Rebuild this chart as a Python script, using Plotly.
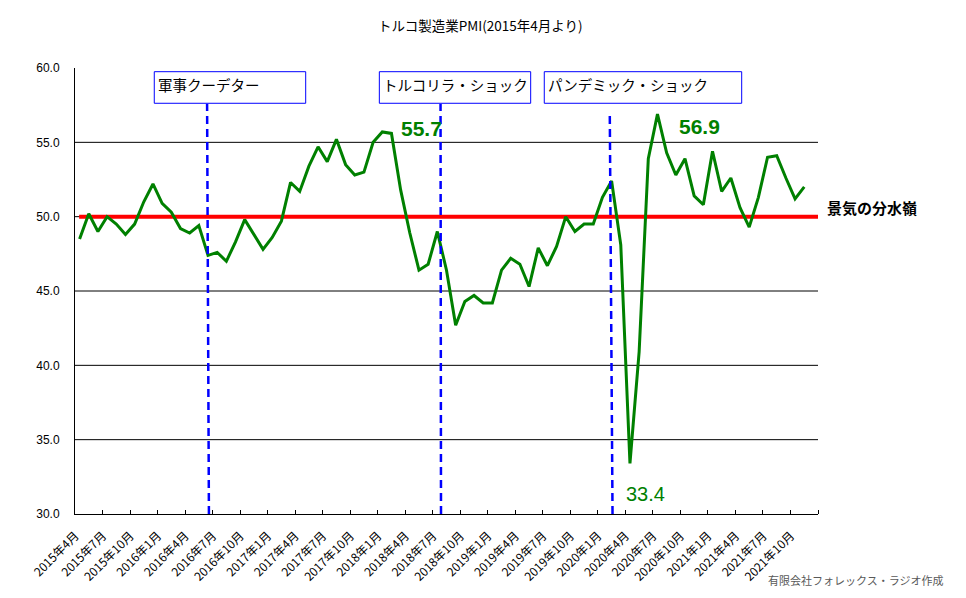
import plotly.graph_objects as go

# ---- data ----
years = [2015] * 9 + [y for y in range(2016, 2022) for _ in range(12)]
months = list(range(4, 13)) + list(range(1, 13)) * 6
categories = [f"{y}年{m}月" for y, m in zip(years, months)]  # Apr 2015 .. Dec 2021 (81)

pmi = [48.5, 50.2, 49.0, 50.0, 49.5, 48.8, 49.5, 51.0, 52.2,
       50.9, 50.3, 49.2, 48.9, 49.4, 47.4, 47.6, 47.0, 48.3, 49.8, 48.8, 47.8,
       48.6, 49.7, 52.3, 51.7, 53.4, 54.7, 53.7, 55.2, 53.5, 52.8, 53.0, 55.0,
       55.7, 55.6, 51.8, 48.9, 46.4, 46.8, 49.0, 46.4, 42.7, 44.3, 44.7, 44.2,
       44.2, 46.4, 47.2, 46.8, 45.3, 47.9, 46.7, 48.0, 50.0, 49.0, 49.5, 49.5,
       51.3, 52.4, 48.1, 33.4, 40.9, 53.9, 56.9, 54.3, 52.8, 53.9, 51.4, 50.8,
       54.4, 51.7, 52.6, 50.6, 49.3, 51.3, 54.0, 54.1, 52.6, 51.2, 52.0]

tick_idx = list(range(0, 81, 3))
tick_labels = [categories[i] for i in tick_idx]
y_ticks = [30, 35, 40, 45, 50, 55, 60]
grid_vals = [35, 40, 45, 50, 55]
threshold = 50

events = ["軍事クーデター", "トルコリラ・ショック", "パンデミック・ショック"]
event_x = [(14.1, 13.9), (39.4, 39.35), (58.1, 57.8)]
event_top = [57.6, 57.6, 57.0]
event_box = [(0.1067, 0.3105), (0.4096, 0.6133), (0.6316, 0.8973)]

callouts = [("55.7", 37.25, 55.9, True), ("56.9", 67.6, 56.05, True), ("33.4", 61.65, 31.35, False)]

x = list(range(len(pmi)))

fig = go.Figure()
fig.add_trace(go.Scatter(x=x, y=pmi, mode="lines",
                         line=dict(color="#008000", width=3), showlegend=False,
                         hoverinfo="skip"))

shapes = []
for v in grid_vals:
    shapes.append(dict(type="line", xref="paper", yref="y", x0=0, x1=1, y0=v, y1=v,
                       line=dict(color="black", width=1), layer="below"))
shapes.append(dict(type="line", xref="x", yref="y", x0=-0.05, x1=80.7, y0=threshold, y1=threshold,
                   line=dict(color="#FF0000", width=4), layer="below"))
for (xb, xt), top in zip(event_x, event_top):
    shapes.append(dict(type="line", xref="x", yref="y", x0=xb, x1=xt, y0=30, y1=top,
                       line=dict(color="#0000FF", width=2.5, dash="8px,5px"), layer="above"))
for (x0, x1) in event_box:
    shapes.append(dict(type="rect", xref="paper", yref="paper", x0=x0, x1=x1,
                       y0=0.9209, y1=0.9917, line=dict(color="#0000FF", width=1),
                       fillcolor="white", layer="above"))

annotations = []
for txt, (x0, x1) in zip(events, event_box):
    annotations.append(dict(text=txt, xref="paper", yref="paper", x=x0, y=0.9917,
                            xanchor="left", yanchor="top", xshift=2, yshift=0,
                            showarrow=False,
                            font=dict(family="Noto Sans CJK JP", size=14.5, color="black")))
for txt, cx, cy, bold in callouts:
    annotations.append(dict(text=f"<b>{txt}</b>" if bold else txt, xref="x", yref="y",
                            x=cx, y=cy, xanchor="center", yanchor="middle", showarrow=False,
                            font=dict(family="Liberation Sans", size=21 if bold else 20,
                                      color="#008000")))
annotations.append(dict(text="<b>景気の分水嶺</b>", xref="paper", yref="y", x=1.0094, y=50.65,
                        xanchor="left", yanchor="middle", showarrow=False,
                        font=dict(family="Noto Sans CJK JP", size=15, color="black")))
annotations.append(dict(text="トルコ製造業PMI(2015年4月より)", xref="paper", yref="paper",
                        x=0.5464, y=1.0964, xanchor="center", yanchor="middle", showarrow=False,
                        font=dict(family="Noto Sans CJK JP", size=13.5, color="black")))
annotations.append(dict(text="有限会社フォレックス・ラジオ作成", xref="paper", yref="paper",
                        x=1.171, y=-0.148, xanchor="right", yanchor="middle", showarrow=False,
                        font=dict(family="Noto Sans CJK JP", size=11, color="#595959")))

fig.update_layout(
    width=966, height=598,
    margin=dict(l=75, r=148, t=68, b=84, autoexpand=False),
    plot_bgcolor="white", paper_bgcolor="white",
    shapes=shapes, annotations=annotations,
    xaxis=dict(range=[-0.5, 80.5], showline=True, linecolor="black", linewidth=1,
               automargin=False,
               showgrid=False, zeroline=False, tickmode="array",
               tickvals=[i - 0.45 for i in tick_idx],
               ticktext=tick_labels, tickangle=-45, ticks="", ticklabelstandoff=9,
               tickfont=dict(family="Noto Sans CJK JP", size=12, color="black"),
               minor=dict(tickmode="array", tickvals=[i + 2.5 for i in tick_idx],
                          ticks="inside", ticklen=4, tickcolor="black", showgrid=False)),
    yaxis=dict(range=[30, 60], showline=True, linecolor="black", linewidth=1,
               automargin=False,
               showgrid=False, zeroline=False, tickmode="array", tickvals=y_ticks,
               tickformat=".1f", ticks="", ticklabelstandoff=12,
               tickfont=dict(family="Liberation Sans", size=12, color="black")),
)

fig.write_html("out.html")
